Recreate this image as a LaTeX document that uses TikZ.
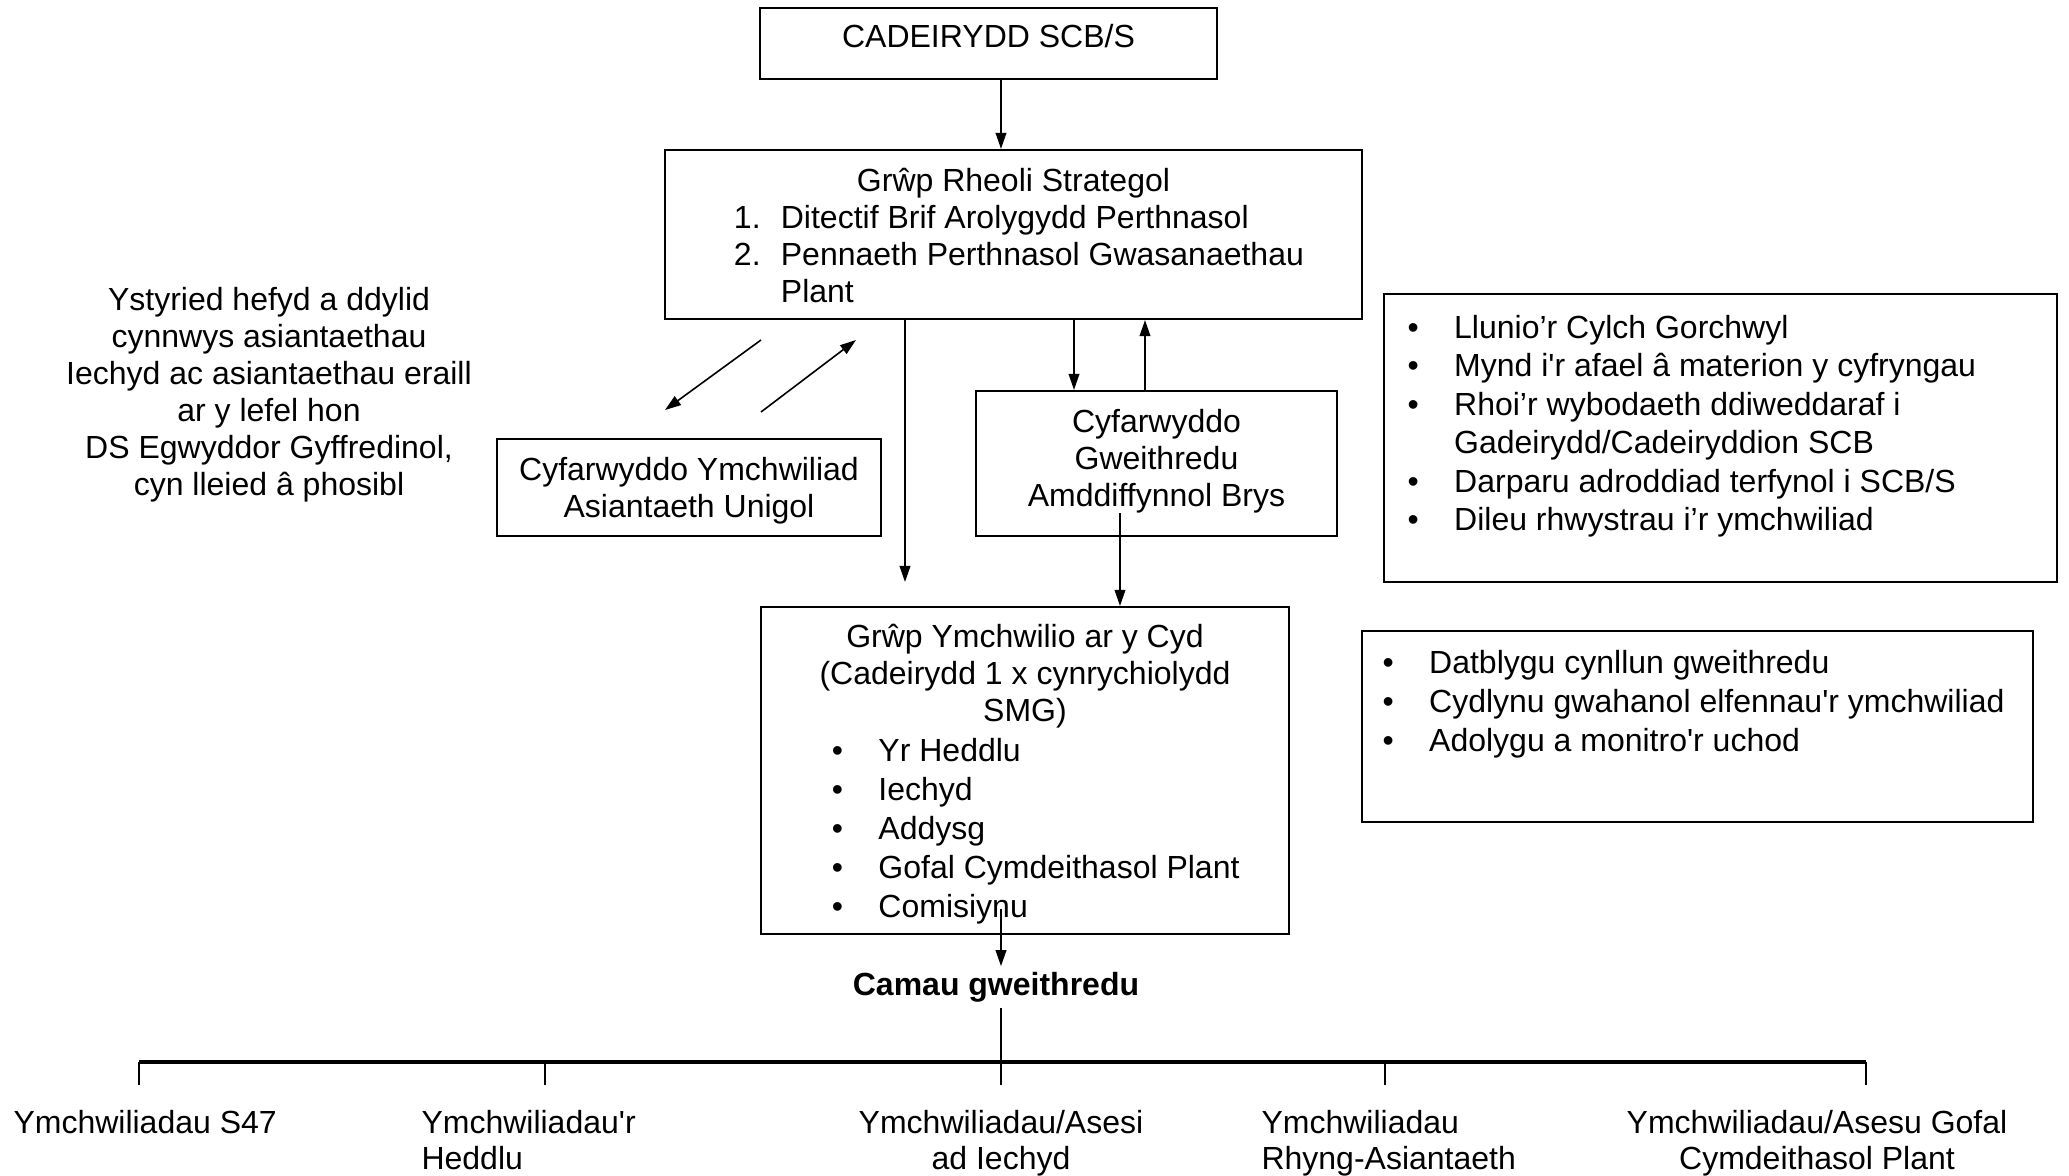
\documentclass[tikz,border=0pt]{standalone}
\usepackage{fontspec}
\setmainfont{Liberation Sans}
\usetikzlibrary{arrows.meta,positioning,calc}

\newcommand{\blt}{\makebox[17.5pt][l]{\textbullet}}
\newcommand{\numb}[1]{\makebox[21.7pt][l]{\hspace*{4.1pt}#1}}
\newcommand{\sq}{\XeTeXglyph\XeTeXcharglyph"0027\relax}

\tikzset{
  >={Triangle[length=6pt,width=4pt]},
  box/.style={draw, line width=0.8pt, inner sep=0pt, align=center,
    font=\fontsize{12}{13.9}\selectfont},
  txt/.style={inner sep=0pt, font=\fontsize{12}{13.9}\selectfont},
  link/.style={line width=0.6pt},
  bar/.style={line width=1.2pt},
  drop/.style={line width=0.4pt}
}

\begin{document}
\begin{tikzpicture}[x=0.375pt,y=-0.375pt]
\useasboundingbox (0,0) rectangle (2069,1176);

% boxes
\node[box, minimum width=171.4pt, minimum height=26.6pt] (chair) at (988.5,43.5) {CADEIRYDD SCB/S\rule[-5.5pt]{0pt}{0pt}};
\node[box, minimum width=261.4pt, minimum height=63.4pt] (rheoli) at (1013.5,234.5) {%
  \raisebox{0pt}[\dimexpr\height+3.8pt\relax]{%
  \begin{tabular}{@{}l@{}l@{}}
  \multicolumn{2}{@{}c@{}}{Grŵp Rheoli Strategol}\\
  \numb{1.} & Ditectif Brif Arolygydd Perthnasol\\
  \numb{2.} & Pennaeth Perthnasol Gwasanaethau\\
  & Plant
  \end{tabular}}};
\node[box, minimum width=144pt, minimum height=36.4pt] (ymchwiliad) at (689,487.5) {\rule{0pt}{10.8pt}Cyfarwyddo Ymchwiliad\\Asiantaeth Unigol};
\node[box, minimum width=135.4pt, minimum height=54.4pt] (gweith) at (1156.5,463.5) {Cyfarwyddo\\Gweithredu\\Amddiffynnol Brys\rule[-4.5pt]{0pt}{0pt}};
\node[box, minimum width=198pt, minimum height=122.6pt] (ymch) at (1025,770.5) {%
  \raisebox{0pt}[\dimexpr\height+3.4pt\relax]{%
  \begin{tabular}{@{}l@{}l@{}}
  \multicolumn{2}{@{}c@{}}{Grŵp Ymchwilio ar y Cyd}\\
  \multicolumn{2}{@{}c@{}}{(Cadeirydd 1 x cynrychiolydd}\\
  \multicolumn{2}{@{}c@{}}{SMG)}\\[0.9pt]
  \hspace*{8pt}\blt & Yr Heddlu\\[0.75pt]
  \hspace*{8pt}\blt & Iechyd\\[0.75pt]
  \hspace*{8pt}\blt & Addysg\\[0.75pt]
  \hspace*{8pt}\blt & Gofal Cymdeithasol Plant\\[0.75pt]
  \hspace*{8pt}\blt & Comisiynu
  \end{tabular}}};
\node[box, minimum width=252.4pt, minimum height=108pt] (llunio) at (1720.5,438) {};
\node[box, minimum width=251.6pt, minimum height=71.6pt] (datblygu) at (1697.5,726.5) {};

% text in the side boxes
\node[txt, font=\fontsize{12}{14.4}\selectfont, anchor=base west] (lluniotext) at (1407,338.5) {%
  \begin{tabular}[t]{@{}l@{}l@{}}
  \blt & Llunio’r Cylch Gorchwyl\\
  \blt & Mynd i\sq r afael â materion y cyfryngau\\
  \blt & Rhoi’r wybodaeth ddiweddaraf i\\
  & Gadeirydd/Cadeiryddion SCB\\
  \blt & Darparu adroddiad terfynol i SCB/S\\
  \blt & Dileu rhwystrau i’r ymchwiliad
  \end{tabular}};
\node[txt, font=\fontsize{12}{14.6}\selectfont, anchor=base west] (datblygutext) at (1382,673.5) {%
  \begin{tabular}[t]{@{}l@{}l@{}}
  \blt & Datblygu cynllun gweithredu\\
  \blt & Cydlynu gwahanol elfennau\sq r ymchwiliad\\
  \blt & Adolygu a monitro\sq r uchod
  \end{tabular}};

% free text
\node[txt, align=center] (ystyried) at (269,395) {Ystyried hefyd a ddylid\\cynnwys asiantaethau\\Iechyd ac asiantaethau eraill\\ar y lefel hon\\DS Egwyddor Gyffredinol,\\cyn lleied â phosibl};
\node[txt, inner sep=2pt, font=\bfseries\fontsize{12}{13.9}\selectfont] (camau) at (996,987) {Camau gweithredu};

% bottom labels
\node[txt, font=\fontsize{12}{13.4}\selectfont, anchor=base west] (s47) at (13,1133.5) {Ymchwiliadau S47};
\node[txt, font=\fontsize{12}{13.4}\selectfont, anchor=base west] (heddlu) at (421,1133.5) {%
  \begin{tabular}[t]{@{}l@{}}Ymchwiliadau\sq r\\Heddlu\end{tabular}};
\node[txt, font=\fontsize{12}{13.4}\selectfont, anchor=base] (iechyd) at (1001,1133.5) {%
  \begin{tabular}[t]{@{}c@{}}Ymchwiliadau/Asesi\\ad Iechyd\end{tabular}};
\node[txt, font=\fontsize{12}{13.4}\selectfont, anchor=base west] (rhyng) at (1261,1133.5) {%
  \begin{tabular}[t]{@{}l@{}}Ymchwiliadau\\Rhyng-Asiantaeth\end{tabular}};
\node[txt, font=\fontsize{12}{13.4}\selectfont, anchor=base] (gofal) at (1817,1133.5) {%
  \begin{tabular}[t]{@{}c@{}}Ymchwiliadau/Asesu Gofal\\Cymdeithasol Plant\end{tabular}};

% connectors
\coordinate (mid) at (1001,0);
\draw[link,->] (mid |- chair.south) -- (mid |- rheoli.north);
\coordinate (dA) at (761,340);
\coordinate (dB) at (665,410);
\coordinate (uA) at (761,412);
\coordinate (uB) at (856,340);
\draw[link,->] (dA) -- (dB);
\draw[link,->] (uA) -- (uB);
\coordinate (hang) at (905,582);
\draw[link,->] (hang |- rheoli.south) -- (hang);
\draw[link,->] (1074,0 |- rheoli.south) -- (1074,0 |- gweith.north);
\draw[link,->] (1145,0 |- gweith.north) -- (1145,0 |- rheoli.south);
\draw[link,->] ($(gweith.south)+(-36.5,-24)$) -- (1120,0 |- ymch.north);
\draw[link,->] ($(mid |- ymch.south)+(0,-26)$) -- (mid |- camau.north);

% tree at the bottom
\coordinate (barL) at (139,1062);
\coordinate (barR) at (1866,1062);
\draw[bar] (barL) -- (barR);
\foreach \n/\x in {s47/139,heddlu/545,iechyd/1001,rhyng/1385,gofal/1866}{
  \coordinate (d\n) at (\x,1085);
  \draw[drop] (d\n |- barL) -- (d\n);
}
\draw[drop] (mid |- camau.south) -- (diechyd);
\end{tikzpicture}
\end{document}
